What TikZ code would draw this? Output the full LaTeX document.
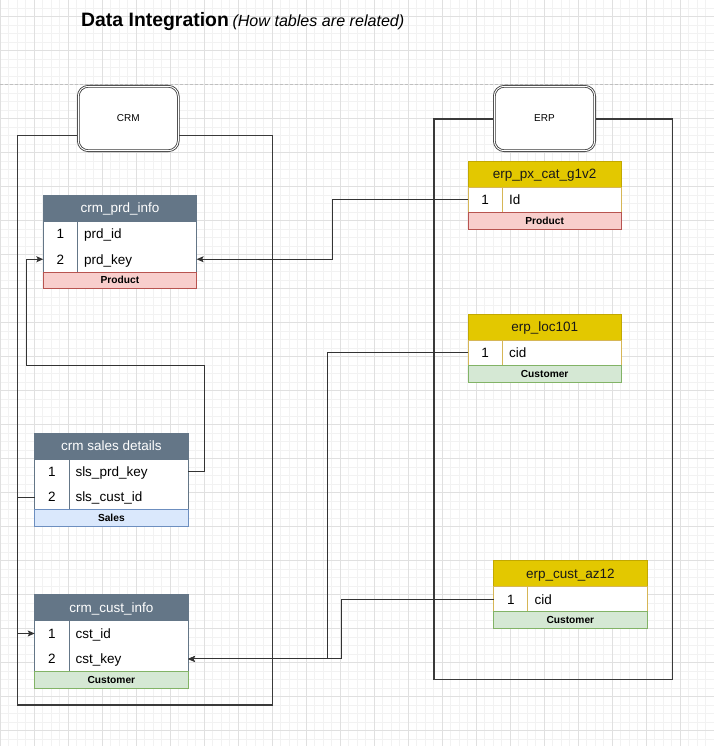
\documentclass[tikz,border=0pt]{standalone}
\usepackage{fontspec}
\setmainfont{Liberation Sans}
\usetikzlibrary{arrows.meta}
\definecolor{slate}{HTML}{647687}
\definecolor{gold}{HTML}{E3C800}
\definecolor{golddark}{HTML}{C2A800}
\definecolor{goldline}{HTML}{D6B656}
\definecolor{redfill}{HTML}{F8CECC}
\definecolor{redline}{HTML}{B85450}
\definecolor{bluefill}{HTML}{DAE8FC}
\definecolor{blueline}{HTML}{6C8EBF}
\definecolor{greenfill}{HTML}{D5E8D4}
\definecolor{greenline}{HTML}{82B366}
\definecolor{wire}{HTML}{333333}
\definecolor{framecol}{HTML}{3A3A3A}
\tikzset{
  minorgrid/.style={draw=gray!10, line width=0.8bp},
  majorgrid/.style={draw=gray!24, line width=0.8bp},
  pagebreak/.style={draw=gray!50, line width=0.8bp, dash pattern=on 3bp off 2bp},
  frame/.style={draw=framecol, line width=1.3bp},
  sysbox/.style={rectangle, rounded corners=10bp, draw=framecol, double=white, double distance=1bp, line width=0.8bp, fill=white, minimum width=100bp, minimum height=64.4bp, inner sep=0pt, font=\fontsize{10bp}{12bp}\selectfont},
  box/.style={rectangle, inner sep=0pt, outer sep=0pt, anchor=north west, line width=1bp, minimum width=153.3bp},
  bigtext/.style={font=\fontsize{13.5bp}{16bp}\selectfont, text height=9.7bp, text depth=0pt},
  slatehead/.style={box, bigtext, fill=slate, draw=slate, minimum height=26bp, text=white},
  goldhead/.style={box, bigtext, fill=gold, draw=golddark, minimum height=26bp, text=black!90},
  slaterows/.style={box, fill=white, draw=slate},
  goldrows/.style={box, fill=white, draw=goldline},
  rowbox/.style={box, minimum height=25.5bp},
  numcell/.style={bigtext, inner sep=0pt, anchor=center},
  labcell/.style={bigtext, inner sep=0pt, anchor=west},
  foot/.style={box, minimum height=16.5bp, font=\bfseries\fontsize{10.2bp}{12bp}\selectfont, text height=7.3bp, text depth=0pt},
  prodfoot/.style={foot, fill=redfill, draw=redline},
  salesfoot/.style={foot, fill=bluefill, draw=blueline},
  custfoot/.style={foot, fill=greenfill, draw=greenline},
  wirestyle/.style={draw=wire, line width=1bp},
  arrowwire/.style={wirestyle, -{Stealth[length=7bp, width=6bp, inset=1.5bp]}},
}
\begin{document}
\begin{tikzpicture}[x=1bp, y=-1bp]
\useasboundingbox (0,0) rectangle (714,746);
\fill[white] (0,0) rectangle (714,746);
% grid
\foreach \i in {0,...,84} \draw[minorgrid] ({0.3+8.5*\i},0) -- ({0.3+8.5*\i},746);
\foreach \j in {0,...,88} \draw[minorgrid] (0,{-0.3+8.5*\j}) -- (714,{-0.3+8.5*\j});
\foreach \i in {0,...,21} \draw[majorgrid] ({0.3+34*\i},0) -- ({0.3+34*\i},746);
\foreach \j in {0,...,21} \draw[majorgrid] (0,{16.7+34*\j}) -- (714,{16.7+34*\j});
\draw[pagebreak] (0,84.3) -- (714,84.3);

% title
\node[font=\bfseries\fontsize{19.4bp}{23bp}\selectfont, anchor=base west, inner sep=0pt] (title) at (81,26.7) {Data Integration};
\node[font=\itshape\fontsize{16.1bp}{19bp}\selectfont, anchor=base west, inner sep=0pt] (subtitle) at (232.3,26.7) {(How tables are related)};

% containers
\draw[frame] (17.6,135.7) rectangle (272.6,705);
\draw[frame] (434,119) rectangle (672.3,679.3);
\node[sysbox] (crm) at (128.3,118.5) {CRM};
\node[sysbox, minimum width=100.4bp] (erp) at (544.5,118.5) {ERP};

% ---------- crm_prd_info
\node[slatehead] (prd-h) at (43.3,195) {crm\_prd\_info};
\node[slaterows, minimum height=51bp] (prd-b) at (43.3,221) {};
\draw[draw=slate, line width=1bp] (77.7,221) -- (77.7,272);
\node[rowbox] (prd-r1) at (43.3,221) {};
\node[rowbox] (prd-r2) at (43.3,246.5) {};
\node[numcell] at (60.5,234) {1};
\node[labcell] at (83.8,234) {prd\_id};
\node[numcell] at (60.5,259.5) {2};
\node[labcell] at (83.8,259.5) {prd\_key};
\node[prodfoot] (prd-f) at (43.3,272) {Product};

% ---------- crm sales details
\node[slatehead] (sales-h) at (34.7,433) {crm sales details};
\node[slaterows, minimum height=50.7bp] (sales-b) at (34.7,459) {};
\draw[draw=slate, line width=1bp] (69,459) -- (69,509.7);
\node[rowbox] (sales-r1) at (34.7,459) {};
\node[rowbox] (sales-r2) at (34.7,484.5) {};
\node[numcell] at (51.9,472) {1};
\node[labcell] at (75.3,472) {sls\_prd\_key};
\node[numcell] at (51.9,497) {2};
\node[labcell] at (75.3,497) {sls\_cust\_id};
\node[salesfoot] (sales-f) at (34.7,509.7) {Sales};

% ---------- crm_cust_info
\node[slatehead] (cust-h) at (34.7,594.7) {crm\_cust\_info};
\node[slaterows, minimum height=50.8bp] (cust-b) at (34.7,620.7) {};
\draw[draw=slate, line width=1bp] (69,620.7) -- (69,671.5);
\node[rowbox] (cust-r1) at (34.7,620.7) {};
\node[rowbox] (cust-r2) at (34.7,646.2) {};
\node[numcell] at (51.9,633.4) {1};
\node[labcell] at (75.3,633.4) {cst\_id};
\node[numcell] at (51.9,658.8) {2};
\node[labcell] at (75.3,658.8) {cst\_key};
\node[custfoot] (cust-f) at (34.7,671.5) {Customer};

% ---------- erp_px_cat_g1v2
\node[goldhead] (px-h) at (468,161) {erp\_px\_cat\_g1v2};
\node[goldrows, minimum height=25.5bp] (px-b) at (468,187) {};
\draw[draw=goldline, line width=1bp] (502.2,187) -- (502.2,212.5);
\node[rowbox] (px-r1) at (468,187) {};
\node[numcell] at (485.1,199.7) {1};
\node[labcell] at (508.8,199.7) {Id};
\node[prodfoot] (px-f) at (468,212.5) {Product};

% ---------- erp_loc101
\node[goldhead] (loc-h) at (468,314) {erp\_loc101};
\node[goldrows, minimum height=25.5bp] (loc-b) at (468,340) {};
\draw[draw=goldline, line width=1bp] (502.2,340) -- (502.2,365.5);
\node[rowbox] (loc-r1) at (468,340) {};
\node[numcell] at (485.1,352.7) {1};
\node[labcell] at (508.8,352.7) {cid};
\node[custfoot] (loc-f) at (468,365.5) {Customer};

% ---------- erp_cust_az12
\node[goldhead] (az-h) at (493.7,560.7) {erp\_cust\_az12};
\node[goldrows, minimum height=25.2bp] (az-b) at (493.7,586.7) {};
\draw[draw=goldline, line width=1bp] (527.8,586.7) -- (527.8,611.9);
\node[rowbox, minimum height=25.2bp] (az-r1) at (493.7,586.7) {};
\node[numcell] at (510.8,599.3) {1};
\node[labcell] at (534.3,599.3) {cid};
\node[custfoot] (az-f) at (493.7,611.9) {Customer};

% ---------- connectors
\coordinate (loopA) at (26,365);
\draw[arrowwire] (px-r1.west) -- ++(-135.3,0) |- (prd-r2.east);
\draw[arrowwire] (sales-r1.east) -- ++(16.8,0) |- (loopA) |- (prd-r2.west);
\draw[arrowwire] (sales-r2.west) -- ++(-17,0) |- (cust-r1.west);
\draw[arrowwire] (loc-r1.west) -- ++(-140.6,0) |- (cust-r2.east);
\draw[arrowwire] (az-r1.west) -- ++(-152.5,0) |- (cust-r2.east);
\end{tikzpicture}
\end{document}
